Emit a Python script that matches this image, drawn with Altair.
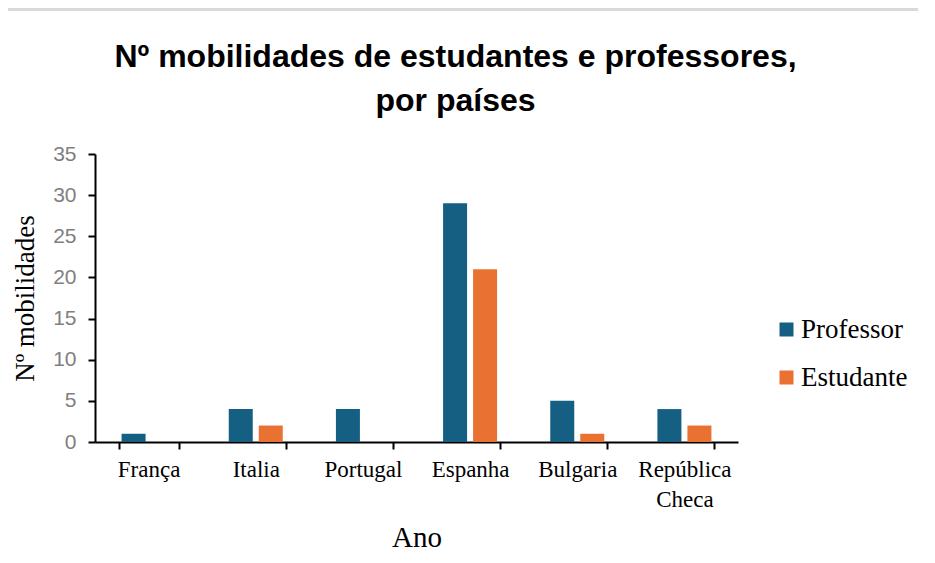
import altair as alt
import pandas as pd

countries = ["França", "Italia", "Portugal", "Espanha", "Bulgaria", "República Checa"]
professor = [1, 4, 4, 29, 5, 4]
estudante = [0, 2, 0, 21, 1, 2]
series = ["Professor", "Estudante"]
colors = ["#156082", "#E97132"]

rows = []
for c, p, e in zip(countries, professor, estudante):
    rows.append({"country": c, "serie": "Professor", "value": p})
    rows.append({"country": c, "serie": "Estudante", "value": e})
df = pd.DataFrame(rows)

SERIF = "Times New Roman, Liberation Serif, serif"
SANS = "Liberation Sans"

bars = alt.Chart(df).mark_bar().encode(
    x=alt.X("country:N", sort=countries, title="Ano",
            scale=alt.Scale(paddingInner=0.44, paddingOuter=0.22),
            axis=alt.Axis(tickBand="extent", labelAngle=0, labelFont=SERIF, labelFontSize=23,
                          labelColor="#000000", labelPadding=9, labelLineHeight=30,
                          labelExpr="split(datum.label, ' ')",
                          titleFont=SERIF, titleFontSize=29, titleFontWeight="normal",
                          titleColor="#000000", titlePadding=12,
                          domainColor="#000000", domainWidth=2, tickColor="#000000",
                          tickWidth=2, tickSize=7)),
    xOffset=alt.XOffset("serie:N", sort=series,
                        scale=alt.Scale(paddingInner=0.2, paddingOuter=0.1)),
    y=alt.Y("value:Q", title="Nº mobilidades",
            scale=alt.Scale(domain=[0, 35], nice=False),
            axis=alt.Axis(values=[0, 5, 10, 15, 20, 25, 30, 35], grid=False,
                          labelFont=SANS, labelFontSize=21, labelColor="#808080",
                          labelPadding=12,
                          titleFont=SERIF, titleFontSize=27, titleFontWeight="normal",
                          titleColor="#000000", titlePadding=13,
                          domainColor="#000000", domainWidth=2, tickColor="#000000",
                          tickWidth=2, tickSize=7)),
    color=alt.Color("serie:N", sort=series,
                    scale=alt.Scale(domain=series, range=colors),
                    legend=alt.Legend(title=None, orient="none", legendX=678, legendY=162,
                                      symbolType="square", symbolSize=196,
                                      symbolStrokeWidth=0, labelFont=SERIF,
                                      labelFontSize=27, labelColor="#000000",
                                      rowPadding=20, labelOffset=1)),
)

topline = alt.Chart(df).mark_rule(color="#d9d9d9", strokeWidth=3, clip=False).encode(
    x=alt.value(-95), x2=alt.value(840), y=alt.value(-145)
)

chart = alt.layer(topline, bars).properties(
    width=643, height=288,
    autosize=alt.AutoSizeParams(type="none"),
    padding={"left": 87, "top": 146, "right": 180, "bottom": 110},
    title=alt.TitleParams(["Nº mobilidades de estudantes e professores,", "por países"],
                          font="Liberation Sans Narrow, Liberation Sans, sans-serif",
                          fontSize=32, fontWeight="bold",
                          color="#000000", anchor="middle", dx=39, offset=0, dy=110,
                          lineHeight=44),
).configure_view(stroke=None).configure_legend(labelFont=SERIF, labelFontSize=27)

chart.save("out.html", embed_options={"renderer": "svg", "actions": False})
